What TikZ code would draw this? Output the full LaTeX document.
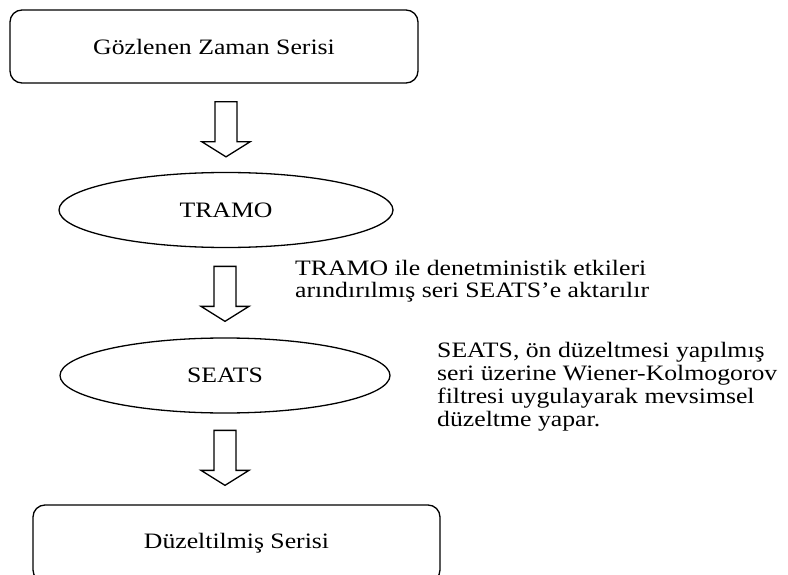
\documentclass[tikz,border=0pt]{standalone}
\usepackage{fontspec}
\setmainfont{Liberation Serif}
\usetikzlibrary{shapes.geometric,calc}
\newcommand\stretchtxt[1]{\scalebox{1.17}[1]{#1}}
\begin{document}
\begin{tikzpicture}[x=1pt,y=-1pt,
  every node/.style={font=\fontsize{22}{23}\selectfont},
  boxstyle/.style={draw, line width=1.3pt, rounded corners=12pt, inner sep=0pt},
  ellstyle/.style={draw, ellipse, line width=1.3pt, inner sep=0pt},
  blockarrow/.style={draw, line width=1.3pt, line join=miter, fill=white},
  note/.style={anchor=base west, inner sep=0pt}]
\useasboundingbox (0,0) rectangle (788,575);
\clip (0,0) rectangle (788,575);
\node[boxstyle, minimum width=408pt, minimum height=73pt] (obs) at (214,46.5) {\stretchtxt{Gözlenen Zaman Serisi}};
\node[ellstyle, minimum width=334pt, minimum height=75pt] (tramo) at (226,210) {\stretchtxt{TRAMO}};
\node[ellstyle, minimum width=330pt, minimum height=75pt] (seats) at (225,375.5) {\stretchtxt{SEATS}};
\node[boxstyle, minimum width=407pt, minimum height=77pt] (adj) at (236.5,543.5) {\stretchtxt{Düzeltilmiş Serisi}};
\coordinate (t1) at ($(tramo.north)+(0,-15)$);
\coordinate (t2) at ($(seats.north)+(0,-16)$);
\coordinate (t3) at ($(seats.south |- adj.north)+(0,-19)$);
\foreach \t in {t1,t2,t3}{
  \draw[blockarrow] (\t) -- ++(-24,-15) -- ++(13,0) -- ++(0,-40) -- ++(22,0)
    -- ++(0,40) -- ++(13,0) -- cycle;
}
\node[note] (n1) at (295,275) {\stretchtxt{\begin{tabular}[t]{@{}l@{}}TRAMO ile denetministik etkileri\\arındırılmış seri SEATS’e aktarılır\end{tabular}}};
\node[note] (n2) at (437,357) {\stretchtxt{\begin{tabular}[t]{@{}l@{}}SEATS, ön düzeltmesi yapılmış\\seri üzerine Wiener-Kolmogorov\\filtresi uygulayarak mevsimsel\\düzeltme yapar.\end{tabular}}};
\end{tikzpicture}
\end{document}
